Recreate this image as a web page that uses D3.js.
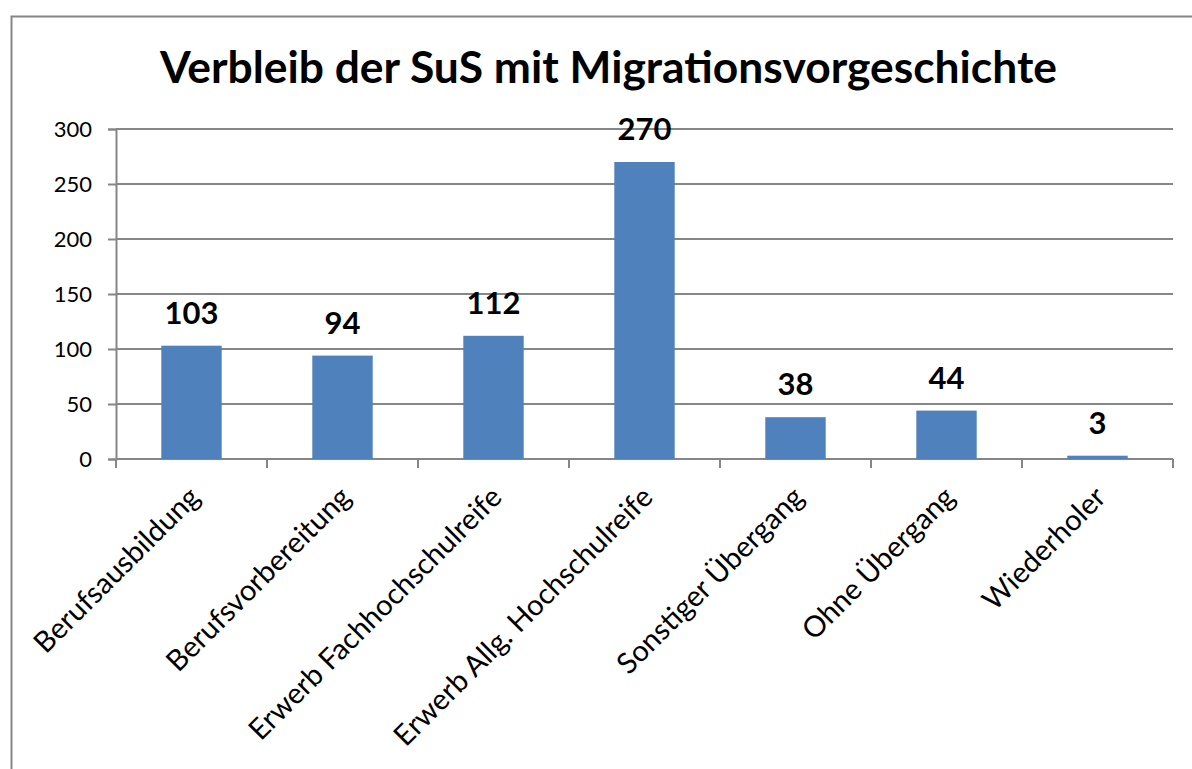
<!DOCTYPE html>
<html>
<head>
<meta charset="utf-8">
<script src="https://cdn.jsdelivr.net/npm/d3@7"></script>
<style>
  body { margin: 0; background: #fff; }
  svg { display: block; font-family: Lato, "Open Sans", sans-serif; }
</style>
</head>
<body>
<div id="chart"></div>
<script>
const categories = ['Berufsausbildung', 'Berufsvorbereitung', 'Erwerb Fachhochschulreife',
  'Erwerb Allg. Hochschulreife', 'Sonstiger Übergang', 'Ohne Übergang', 'Wiederholer'];
const values = [103, 94, 112, 270, 38, 44, 3];
const yTicks = [0, 50, 100, 150, 200, 250, 300];
const title = 'Verbleib der SuS mit Migrationsvorgeschichte';

const width = 1192, height = 769;
const margin = { top: 129, right: 19, bottom: 310, left: 116 };
const axisColor = '#868686';

const svg = d3.select('#chart').append('svg')
  .attr('width', width)
  .attr('height', height);

// outer chart border (runs off the right/bottom edge)
svg.append('rect')
  .attr('x', 11.5).attr('y', 16.5)
  .attr('width', 1200).attr('height', 800)
  .attr('fill', 'none')
  .attr('stroke', axisColor)
  .attr('stroke-width', 2);

const contentWidth = width - margin.left - margin.right;
const contentHeight = height - margin.top - margin.bottom;

const xScale = d3.scaleBand()
  .range([0, contentWidth])
  .paddingInner(0.6)
  .paddingOuter(0.3)
  .domain(categories);

const yScale = d3.scaleLinear()
  .range([contentHeight, 0])
  .domain([0, 300]);

const g = svg.append('g')
  .attr('transform', 'translate(' + margin.left + ',' + margin.top + ')');

// gridlines
g.selectAll('.grid')
  .data(yTicks)
  .enter().append('line')
  .attr('class', 'grid')
  .attr('x1', 0).attr('x2', contentWidth)
  .attr('y1', d => yScale(d)).attr('y2', d => yScale(d))
  .attr('stroke', axisColor)
  .attr('stroke-width', 2);

// y axis
const yAxis = g.append('g')
  .call(d3.axisLeft(yScale).tickValues(yTicks).tickSize(8).tickPadding(16));
yAxis.selectAll('line, path').attr('stroke', axisColor).attr('stroke-width', 2);
yAxis.selectAll('text')
  .attr('font-family', 'Lato, sans-serif')
  .attr('font-size', 22)
  .attr('fill', '#000');

// x axis: boundary ticks as in the original
const step = xScale.step();
const bounds = d3.range(categories.length + 1).map(i => i * step);
g.append('line')
  .attr('x1', 0).attr('x2', contentWidth)
  .attr('y1', contentHeight).attr('y2', contentHeight)
  .attr('stroke', axisColor).attr('stroke-width', 2);
g.selectAll('.xtick')
  .data(bounds)
  .enter().append('line')
  .attr('class', 'xtick')
  .attr('x1', d => d).attr('x2', d => d)
  .attr('y1', contentHeight).attr('y2', contentHeight + 9)
  .attr('stroke', axisColor).attr('stroke-width', 2);

// rotated category labels
g.selectAll('.xlabel')
  .data(categories)
  .enter().append('text')
  .attr('class', 'xlabel')
  .attr('transform', d => 'translate(' + (xScale(d) + xScale.bandwidth() / 2 + 10) + ',' + (contentHeight + 40) + ') rotate(-45)')
  .attr('text-anchor', 'end')
  .attr('font-size', 29)
  .attr('fill', '#000')
  .text(d => d);

// bars
g.selectAll('.bar')
  .data(values)
  .enter().append('rect')
  .attr('class', 'bar')
  .attr('x', (d, i) => xScale(categories[i]))
  .attr('y', d => yScale(d))
  .attr('width', xScale.bandwidth())
  .attr('height', d => contentHeight - yScale(d))
  .attr('fill', '#4F81BD');

// value labels
g.selectAll('.value')
  .data(values)
  .enter().append('text')
  .attr('class', 'value')
  .attr('x', (d, i) => xScale(categories[i]) + xScale.bandwidth() / 2)
  .attr('y', d => yScale(d) - 22)
  .attr('text-anchor', 'middle')
  .attr('font-size', 31)
  .attr('font-weight', 'bold')
  .attr('fill', '#000')
  .text(d => d);

// title
const t = svg.append('text')
  .attr('x', 608.5)
  .attr('y', 83)
  .attr('text-anchor', 'middle')
  .attr('font-size', 40)
  .attr('font-weight', 'bold')
  .attr('fill', '#000')
  .text(title);
const tw = t.node().getComputedTextLength();
t.attr('font-size', 40 * 897 / tw);
</script>
</body>
</html>
